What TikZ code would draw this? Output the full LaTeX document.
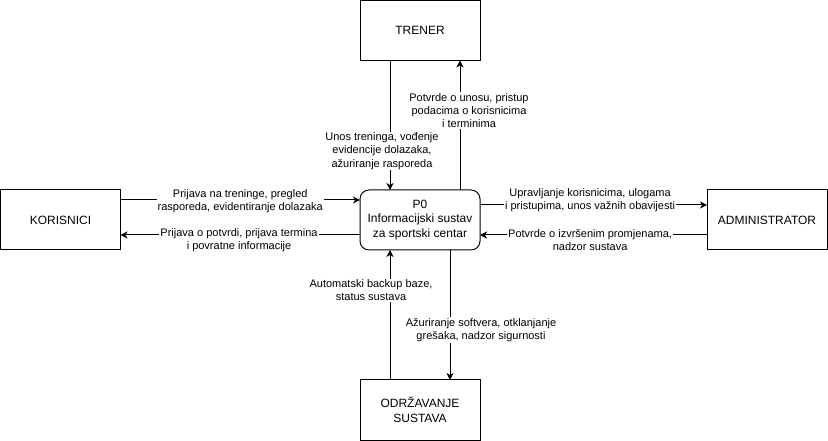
\documentclass[tikz,border=0pt]{standalone}
\usepackage{fontspec}
\setmainfont{Liberation Sans}
\usetikzlibrary{arrows.meta}
\begin{document}
\begin{tikzpicture}[x=1bp,y=-1bp,
  box/.style={draw=black,line width=1bp,minimum width=120bp,minimum height=60bp,
    inner sep=0pt,outer sep=0pt,align=center,font=\fontsize{12bp}{14.4bp}\selectfont},
  proc/.style={box,rounded corners=9bp},
  arr/.style={line width=1bp,-{Stealth[length=7bp,width=7bp,inset=2bp]}},
  lbl/.style={fill=white,inner sep=1bp,align=center,font=\fontsize{11bp}{13.2bp}\selectfont}]
\useasboundingbox (0,0) rectangle (828,441);

\node[proc] (p0) at (420,220) {P0\\Informacijski sustav\\za sportski centar};
\node[box] (trener) at (420,30.5) {TRENER};
\node[box] (kor) at (60.5,220) {KORISNICI};
\node[box] (adm) at (767,220) {ADMINISTRATOR};
\node[box] (odr) at (420,410) {ODRŽAVANJE\\SUSTAVA};

% TRENER
\draw[arr] ([xshift=30bp]trener.south west) -- ([xshift=30bp]p0.north west)
  node[lbl,pos=0.70,xshift=-8bp] {Unos treninga, vođenje\\evidencije dolazaka,\\ažuriranje rasporeda};
\draw[arr] ([xshift=-20bp]p0.north east) -- ([xshift=-20bp]trener.south east)
  node[lbl,pos=0.615,xshift=9bp] {Potvrde o unosu, pristup\\podacima o korisnicima\\i terminima};

% KORISNICI
\draw[arr] ([yshift=-10bp]kor.north east) -- ([yshift=-10bp]p0.north west)
  node[lbl,pos=0.5,yshift=-1.5bp] {Prijava na treninge, pregled\\rasporeda, evidentiranje dolazaka};
\draw[arr] ([yshift=15bp]p0.south west) -- ([yshift=15bp]kor.south east)
  node[lbl,pos=0.505,yshift=-5bp] {Prijava o potvrdi, prijava termina\\i povratne informacije};

% ADMINISTRATOR
\draw[arr] ([yshift=-15bp]p0.north east) -- ([yshift=-15bp]adm.north west)
  node[lbl,pos=0.485,yshift=5bp] {Upravljanje korisnicima, ulogama\\i pristupima, unos važnih obavijesti};
\draw[arr] ([yshift=15bp]adm.south west) -- ([yshift=15bp]p0.south east)
  node[lbl,pos=0.515,yshift=-5bp] {Potvrde o izvršenim promjenama,\\nadzor sustava};

% ODRZAVANJE
\draw[arr] ([xshift=30bp]odr.north west) -- ([xshift=30bp]p0.south west)
  node[lbl,pos=0.69,xshift=-19bp] {Automatski backup baze,\\status sustava};
\draw[arr] ([xshift=-30bp]p0.south east) -- ([xshift=-30bp]odr.north east)
  node[lbl,pos=0.615,xshift=31bp] {Ažuriranje softvera, otklanjanje\\grešaka, nadzor sigurnosti};
\end{tikzpicture}
\end{document}
